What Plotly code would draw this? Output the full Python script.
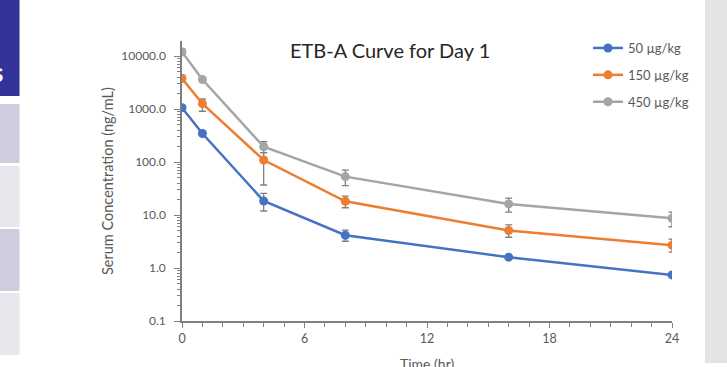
import plotly.graph_objects as go
import math

time_hr = [0, 1, 4, 8, 16, 24]
series_names = ["50 µg/kg", "150 µg/kg", "450 µg/kg"]
series_colors = ["#4472C4", "#ED7D31", "#A5A5A5"]

conc_50 = [1060, 345, 18.4, 4.15, 1.6, 0.74]
hi_50 = [1160, 362, 25.6, 5.2, 1.7, 0.78]
lo_50 = [970, 330, 11.9, 3.2, 1.5, 0.70]

conc_150 = [3750, 1260, 109, 18.1, 5.1, 2.7]
hi_150 = [4350, 1545, 150, 22.8, 6.5, 3.5]
lo_150 = [3300, 906, 36.8, 13.7, 3.8, 2.0]

conc_450 = [11900, 3600, 194, 53, 16.2, 8.7]
hi_450 = [13600, 3800, 241, 70, 20.9, 11.3]
lo_450 = [10500, 3400, 150, 35.7, 11.3, 6.0]

y_tickvals = [0.1, 1, 10, 100, 1000, 10000]
y_ticktext = ["0.1", "1.0", "10.0", "100.0", "1000.0", "10000.0"]
x_tickvals = [0, 6, 12, 18, 24]

W, H = 727, 367
L, R, T, B = 182, 672, 41, 321


def px(xp):
    return (xp - L) / (R - L)


def py(yp):
    return (B - yp) / (B - T)


FONT = "Lato, Carlito, Calibri, sans-serif"
TXT = "#595959"

fig = go.Figure()
all_series = [(conc_50, hi_50, lo_50), (conc_150, hi_150, lo_150), (conc_450, hi_450, lo_450)]
for name, color, (vals, hi, lo) in zip(series_names, series_colors, all_series):
    fig.add_trace(go.Scatter(
        x=time_hr, y=vals, name=name, mode="lines+markers",
        line=dict(color=color, width=2.5),
        marker=dict(color=color, size=9),
        legendgroup=name,
        error_y=dict(type="data", symmetric=False,
                     array=[h - v for h, v in zip(hi, vals)],
                     arrayminus=[v - l for v, l in zip(vals, lo)],
                     color="#808080", thickness=1.3, width=3.5),
    ))

minor_y = []
for e in range(-1, 5):
    for k in range(2, 10):
        v = k * 10 ** e
        if math.log10(v) <= 4.28:
            minor_y.append(v)

fig.update_xaxes(
    range=[0, 24], tickmode="array", tickvals=x_tickvals,
    showgrid=False, zeroline=False, showline=True, linecolor="#7f7f7f", linewidth=1.5,
    ticks="outside", ticklen=5, tickcolor="#7f7f7f", tickwidth=1.3,
    tickfont=dict(family=FONT, size=12.5, color=TXT),
    minor=dict(tickmode="array", tickvals=list(range(0, 25)), ticks="outside",
               ticklen=4, tickcolor="#7f7f7f", tickwidth=1.2, showgrid=False),
)
fig.update_yaxes(
    type="log", range=[-1, 4.283], tickmode="array", tickvals=y_tickvals, ticktext=y_ticktext,
    showgrid=False, zeroline=False, showline=True, linecolor="#7f7f7f", linewidth=1.5,
    ticks="outside", ticklen=6, tickcolor="#7f7f7f", tickwidth=1.3,
    ticklabelstandoff=6,
    tickfont=dict(family=FONT, size=12, color=TXT),
    minor=dict(tickmode="array", tickvals=minor_y, ticks="outside",
               ticklen=3, tickcolor="#7f7f7f", tickwidth=1, showgrid=False),
)

shapes = []
# left slide strip
shapes.append(dict(type="rect", xref="paper", yref="paper", x0=px(0), x1=px(19.5),
                   y0=py(0), y1=py(96), fillcolor="#333399", line_width=0, layer="below"))
for (y0, y1, c) in [(104, 163, "#CDCDDF"), (166, 227, "#E7E7EE"), (229, 291, "#CDCDDF"), (293, 355, "#E7E7EE")]:
    shapes.append(dict(type="rect", xref="paper", yref="paper", x0=px(0), x1=px(19.5),
                       y0=py(y0), y1=py(y1), fillcolor=c, line_width=0, layer="below"))
# right grey strip
shapes.append(dict(type="rect", xref="paper", yref="paper", x0=px(705), x1=px(727),
                   y0=py(0), y1=py(363), fillcolor="#E4E4E4", line_width=0, layer="below"))

annotations = [
    dict(text="ETB-A Curve for Day 1", xref="paper", yref="paper", x=px(390), y=py(50),
         showarrow=False, font=dict(family=FONT, size=20, color="#262626"),
         xanchor="center", yanchor="middle"),
    dict(text="Serum Concentration (ng/mL)", xref="paper", yref="paper", x=px(107), y=py(181),
         showarrow=False, textangle=-90, font=dict(family=FONT, size=14.5, color=TXT),
         xanchor="center", yanchor="middle"),
    dict(text="Time (hr)", xref="paper", yref="paper", x=px(427), y=py(363),
         showarrow=False, font=dict(family=FONT, size=14, color=TXT),
         xanchor="center", yanchor="middle"),
    dict(text="<b>s</b>", xref="paper", yref="paper", x=px(5), y=py(72),
         showarrow=False, font=dict(family=FONT, size=26, color="#FFFFFF"),
         xanchor="right", yanchor="middle"),
]

fig.update_layout(
    width=W, height=H,
    margin=dict(l=L, r=W - R, t=T, b=H - B, pad=0),
    paper_bgcolor="white", plot_bgcolor="white",
    showlegend=True,
    legend=dict(x=px(588), y=py(33), xanchor="left", yanchor="top",
                font=dict(family=FONT, size=13, color=TXT),
                bgcolor="rgba(0,0,0,0)", traceorder="grouped", tracegroupgap=7,
                itemwidth=30),
    shapes=shapes,
    annotations=annotations,
)

fig.write_html("out.html", config={"displayModeBar": False},
               post_script="document.body.style.margin='0';document.body.style.overflow='hidden';")
